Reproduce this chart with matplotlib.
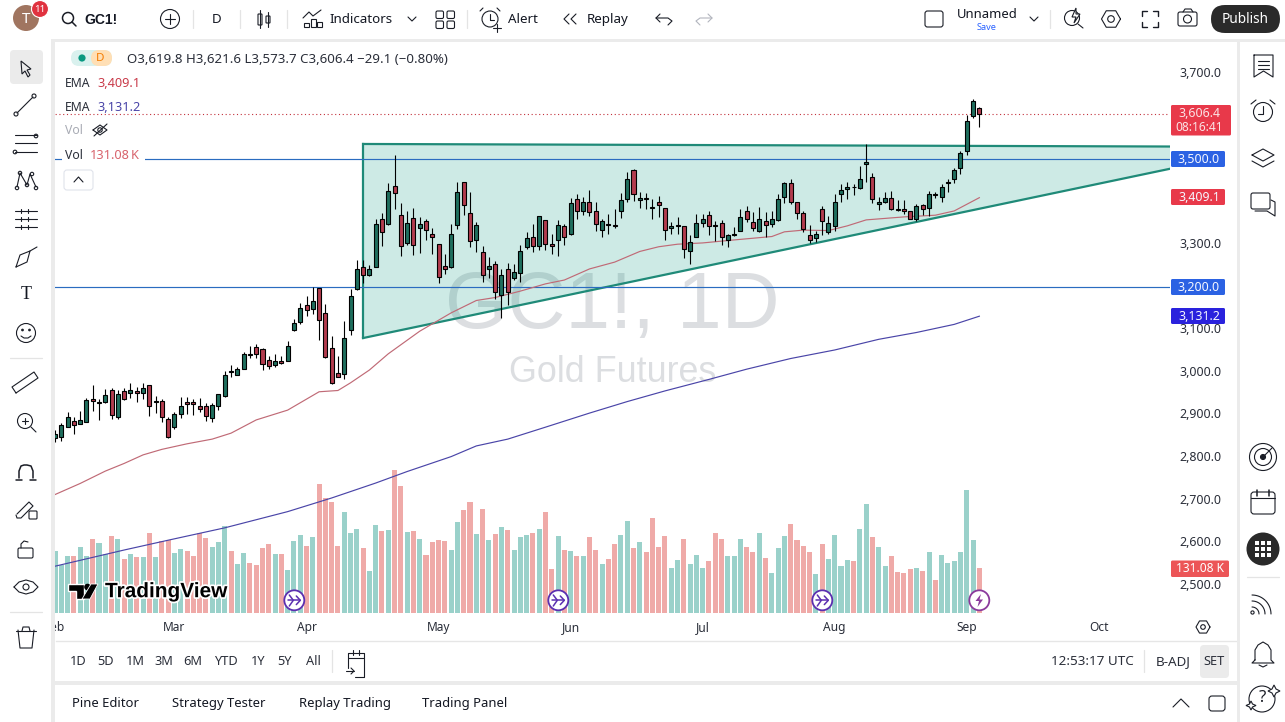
import matplotlib

matplotlib.use("Agg")
import matplotlib.pyplot as plt
import numpy as np
from matplotlib.patches import Circle, FancyBboxPatch, Polygon, Rectangle
import matplotlib.patheffects as pe

plt.rcParams["font.family"] = ["Noto Sans", "DejaVu Sans"]

opens = [
    2845, 2849, 2872, 2885, 2879, 2884, 2936, 2928, 2929, 2957,
    2896, 2955, 2950, 2955, 2950, 2969, 2930, 2932, 2889, 2872,
    2903, 2929, 2929, 2920, 2920, 2893, 2921, 2943, 3003, 2994,
    3008, 3043, 3058, 3054, 3028, 3017, 3025, 3025, 3100, 3118,
    3157, 3147, 3197, 3138, 3056, 2997, 2996, 3098, 3194, 3246,
    3227, 3247, 3358, 3347, 3436, 3368, 3302, 3361, 3337, 3354,
    3323, 3300, 3248, 3246, 3344, 3447, 3372, 3309, 3281, 3241,
    3253, 3180, 3243, 3220, 3232, 3293, 3318, 3295, 3356, 3300,
    3311, 3342, 3323, 3405, 3377, 3398, 3377, 3333, 3347, 3345,
    3377, 3405, 3473, 3403, 3408, 3387, 3400, 3384, 3337, 3342,
    3342, 3283, 3316, 3349, 3368, 3345, 3349, 3311, 3321, 3332,
    3377, 3351, 3330, 3354, 3347, 3356, 3410, 3443, 3398, 3372,
    3321, 3314, 3382, 3328, 3342, 3417, 3429, 3434, 3431, 3487,
    3457, 3394, 3398, 3408, 3382, 3382, 3377, 3358, 3391, 3384,
    3417, 3410, 3443, 3452, 3478, 3518, 3600, 3619.8,
]
highs = [
    2864, 2880, 2906, 2894, 2910, 2939, 2970, 2937, 2961, 2964,
    2958, 2964, 2974, 2966, 2974, 2971, 2944, 2936, 2896, 2906,
    2941, 2941, 2937, 2939, 2927, 2928, 2948, 3003, 3016, 3012,
    3047, 3061, 3065, 3057, 3039, 3043, 3038, 3072, 3125, 3161,
    3179, 3200, 3197, 3159, 3085, 3038, 3120, 3194, 3263, 3263,
    3251, 3359, 3372, 3443, 3509, 3396, 3378, 3384, 3363, 3358,
    3337, 3300, 3276, 3347, 3445, 3447, 3422, 3351, 3295, 3269,
    3260, 3243, 3255, 3253, 3297, 3328, 3347, 3365, 3356, 3323,
    3356, 3347, 3408, 3417, 3410, 3426, 3398, 3358, 3371, 3382,
    3419, 3469, 3476, 3422, 3419, 3405, 3412, 3384, 3351, 3363,
    3343, 3321, 3370, 3370, 3377, 3354, 3356, 3323, 3340, 3382,
    3389, 3375, 3387, 3375, 3377, 3417, 3447, 3453, 3400, 3377,
    3344, 3330, 3389, 3366, 3417, 3440, 3445, 3441, 3483, 3534,
    3466, 3410, 3422, 3424, 3403, 3403, 3378, 3394, 3394, 3424,
    3422, 3440, 3452, 3478, 3518, 3602, 3640, 3621.6,
]
lows = [
    2837, 2839, 2872, 2855, 2878, 2882, 2909, 2888, 2927, 2891,
    2889, 2935, 2940, 2930, 2938, 2898, 2905, 2882, 2846, 2867,
    2893, 2903, 2900, 2907, 2885, 2884, 2911, 2942, 2989, 2993,
    3007, 3033, 3033, 3006, 3008, 3013, 3019, 3025, 3097, 3114,
    3132, 3136, 3075, 3034, 2973, 2988, 2984, 3087, 3193, 3210,
    3225, 3247, 3296, 3346, 3382, 3273, 3297, 3275, 3280, 3311,
    3277, 3210, 3230, 3245, 3335, 3369, 3294, 3281, 3212, 3220,
    3172, 3126, 3158, 3215, 3211, 3288, 3281, 3287, 3286, 3276,
    3272, 3297, 3321, 3358, 3368, 3365, 3330, 3316, 3323, 3337,
    3361, 3400, 3401, 3386, 3382, 3358, 3363, 3311, 3325, 3324,
    3268, 3253, 3316, 3341, 3322, 3307, 3297, 3293, 3320, 3330,
    3351, 3330, 3328, 3316, 3340, 3354, 3396, 3394, 3358, 3328,
    3302, 3304, 3321, 3325, 3332, 3400, 3405, 3415, 3430, 3447,
    3396, 3381, 3396, 3380, 3379, 3370, 3358, 3355, 3368, 3365,
    3408, 3398, 3423, 3443, 3464, 3508, 3596, 3573.7,
]
closes = [
    2856, 2875, 2894, 2877, 2887, 2934, 2933, 2930, 2946, 2900,
    2948, 2936, 2957, 2952, 2964, 2920, 2932, 2896, 2849, 2901,
    2920, 2926, 2926, 2914, 2898, 2922, 2948, 2993, 3000, 3007,
    3042, 3040, 3043, 3020, 3015, 3025, 3022, 3061, 3115, 3150,
    3145, 3166, 3122, 3035, 2974, 2989, 3079, 3178, 3243, 3227,
    3241, 3347, 3328, 3424, 3419, 3295, 3349, 3297, 3347, 3333,
    3318, 3222, 3243, 3323, 3422, 3391, 3307, 3344, 3227, 3248,
    3187, 3227, 3187, 3234, 3283, 3314, 3295, 3365, 3300, 3295,
    3344, 3316, 3396, 3377, 3398, 3375, 3347, 3354, 3344, 3343,
    3403, 3452, 3417, 3408, 3405, 3385, 3393, 3333, 3342, 3344,
    3288, 3306, 3349, 3358, 3342, 3343, 3316, 3321, 3325, 3363,
    3358, 3337, 3358, 3344, 3358, 3405, 3443, 3398, 3372, 3335,
    3309, 3323, 3354, 3349, 3400, 3426, 3433, 3433, 3452, 3492,
    3405, 3398, 3408, 3382, 3380, 3377, 3358, 3389, 3382, 3417,
    3415, 3433, 3447, 3473, 3515, 3590, 3635, 3606.4,
]
# volume in thousands
volumes = [
    181, 140, 166, 166, 192, 166, 216, 204, 172, 224,
    216, 157, 172, 163, 163, 233, 163, 210, 213, 175,
    186, 181, 166, 233, 218, 192, 207, 253, 181, 143,
    175, 146, 140, 189, 201, 172, 172, 125, 210, 227,
    195, 221, 376, 335, 323, 195, 294, 233, 245, 189,
    122, 256, 239, 242, 417, 370, 236, 239, 216, 169,
    207, 213, 210, 184, 265, 300, 323, 230, 303, 213,
    230, 251, 242, 184, 221, 227, 233, 245, 294, 128,
    224, 184, 181, 166, 166, 221, 184, 143, 157, 201,
    227, 268, 189, 207, 178, 277, 192, 224, 131, 154,
    216, 143, 169, 131, 151, 233, 216, 166, 166, 216,
    192, 178, 233, 160, 117, 189, 224, 259, 213, 195,
    178, 114, 201, 157, 227, 137, 154, 151, 245, 318,
    221, 192, 137, 166, 119, 117, 128, 131, 122, 178,
    96, 169, 146, 151, 178, 358, 213, 131.08,
]

ema50_bars = [0, 4, 8, 11, 14, 17, 21, 25, 28, 32, 37, 42, 45, 47, 50, 53, 58, 63, 67, 70,
              74, 78, 81, 85, 89, 93, 96, 99, 103, 108, 114, 116, 119, 123, 126, 129, 135,
              140, 143, 147]
ema50_vals = [2713, 2739, 2768, 2786, 2806, 2819, 2832, 2843, 2857, 2888, 2911, 2954, 2957,
              2975, 3005, 3043, 3096, 3139, 3168, 3175, 3190, 3207, 3216, 3242, 3258, 3283,
              3294, 3300, 3303, 3310, 3318, 3329, 3333, 3332, 3343, 3357, 3364, 3368, 3378,
              3409.1]
ema200_bars = [0, 11, 18, 27, 37, 44, 51, 56, 60, 63, 67, 72, 78, 85, 91, 97, 104, 110, 117,
               124, 131, 137, 143, 147]
ema200_vals = [2545, 2583, 2606, 2635, 2673, 2705, 2740, 2767, 2787, 2802, 2827, 2843, 2871,
               2904, 2931, 2956, 2983, 3007, 3032, 3052, 3077, 3093, 3112, 3131.2]

price_ticks = [3700, 3300, 3100, 3000, 2900, 2800, 2700, 2600, 2500]
month_bars = [0, 19, 40, 61, 82, 103, 124, 145, 166]
month_labels = ["Feb", "Mar", "Apr", "May", "Jun", "Jul", "Aug", "Sep", "Oct"]
hlines = [3500, 3200]
last_price = 3606.4
triangle_bars = [49, 49, 178, 178]
triangle_vals = [3535, 3080, 3479, 3529]

W, H = 1285, 722
INK = "#131722"
UP, DOWN = "#1f6f5e", "#b23c4e"
VOL_UP, VOL_DOWN = "#9ad1ca", "#efaaa8"
PANEL_GAP = "#ebebeb"

fig = plt.figure(figsize=(W / 100, H / 100), dpi=100, facecolor=PANEL_GAP)


def pix_axes(z):
    a = fig.add_axes([0, 0, 1, 1], zorder=z)
    a.set_xlim(0, W)
    a.set_ylim(H, 0)
    a.axis("off")
    a.patch.set_alpha(0)
    return a


bg = pix_axes(0)
ui = pix_axes(5)

# chart pane
L, R, T, B = 40, 1170, 42, 613
pos = [L / W, (H - B) / H, (R - L) / W, (B - T) / H]
x_range = (-2.385, 177.32)

bg.add_patch(Rectangle((55, 42), 1182, 640, fc="white", ec="none"))
bg.add_patch(Rectangle((0, 0), W, 38.5, fc="white", ec="none"))
bg.add_patch(Rectangle((55, 685), 1182, 37, fc="white", ec="none"))
bg.plot([56, 1236], [641, 641], color="#e6e6e6", lw=1)
bg.text(612, 307, "GC1!, 1D", fontsize=57.8, family="Liberation Sans", color="#dcdee1", ha="center", va="center")
bg.text(613, 372, "Gold Futures", fontsize=25.8, family="Liberation Sans", color="#dcdee1", ha="center", va="center")

# volume
vol_ax = fig.add_axes(pos, zorder=1)
vol_ax.patch.set_alpha(0)
vol_ax.axis("off")
vol_ax.set_xlim(*x_range)
vol_ax.set_ylim(0, 1663)
bars = np.arange(len(closes))
up = np.array(closes) >= np.array(opens)
vol_ax.bar(bars, volumes, width=0.8, color=[VOL_UP if u else VOL_DOWN for u in up])

# price
ax = fig.add_axes(pos, zorder=2)
ax.patch.set_alpha(0)
ax.set_xlim(*x_range)
ax.set_ylim(2435.3, 3774.1)
for s in ax.spines.values():
    s.set_visible(False)
ax.add_patch(Polygon(list(zip(triangle_bars, triangle_vals)), closed=True, fc="#089981", alpha=0.2, ec="none", zorder=1))
ax.plot(triangle_bars[:2], triangle_vals[:2], color="#1f8a78", lw=1.6, zorder=2)
ax.plot([triangle_bars[0], triangle_bars[3]], [triangle_vals[0], triangle_vals[3]], color="#1f8a78", lw=1.6, zorder=2)
ax.plot([triangle_bars[1], triangle_bars[2]], [triangle_vals[1], triangle_vals[2]], color="#1f8a78", lw=1.6, zorder=2)
for lvl in hlines:
    ax.axhline(lvl, color="#2a6cc0", lw=0.85, zorder=3)
ax.axhline(last_price, color="#c2303c", lw=0.8, ls=(0, (1, 2.4)), zorder=3)
ax.plot(ema50_bars, ema50_vals, color="#c06a76", lw=0.85, zorder=4)
ax.plot(ema200_bars, ema200_vals, color="#4a45a8", lw=0.85, zorder=4)
ax.vlines(bars, lows, highs, color="black", lw=0.8, zorder=5)
ax.bar(bars, np.abs(np.array(closes) - np.array(opens)), bottom=np.minimum(opens, closes), width=0.64,
       color=[UP if u else DOWN for u in up], edgecolor="black", lw=0.8, zorder=6)

ax.yaxis.tick_right()
ax.set_yticks(price_ticks)
ax.set_yticklabels([f"{p:,.1f}" for p in price_ticks], fontsize=8.9, color="#2a2e39", va="center")
ax.set_xticks(month_bars)
ax.set_xticklabels(month_labels, fontsize=8.6, color="#2a2e39")
ax.tick_params(axis="both", length=0)
ax.tick_params(axis="y", pad=6.5)
ax.tick_params(axis="x", pad=5.5)

# ---- screen furniture, pixel coordinates from here ----
ui.add_patch(Rectangle((0, 39), 51, 683, fc="white", ec="none"))
ui.add_patch(Rectangle((51, 39), 4, 683, fc=PANEL_GAP, ec="none"))
ui.add_patch(Rectangle((1237, 39), 3, 683, fc=PANEL_GAP, ec="none"))
ui.add_patch(Rectangle((1240, 42), 45, 680, fc="white", ec="none"))
ui.add_patch(Rectangle((55, 39), 1185, 3, fc=PANEL_GAP, ec="none"))
ui.add_patch(Rectangle((55, 681), 1185, 3.5, fc=PANEL_GAP, ec="none"))


def line(xs, ys, c="#1a1d26", lw=0.8):
    ui.plot(xs, ys, color=c, lw=lw, solid_capstyle="round", solid_joinstyle="round")


def box(x0, y0, x1, y1, r=2.0, fc="none", ec="#1a1d26", lw=0.8):
    ui.add_patch(FancyBboxPatch((x0, y0), x1 - x0, y1 - y0, boxstyle="round,pad=0,rounding_size=%s" % r,
                                mutation_scale=1, fc=fc, ec=ec, lw=lw))


def ring(x, y, r, fc="none", ec="#1a1d26", lw=0.8):
    ui.add_patch(Circle((x, y), r, fc=fc, ec=ec, lw=lw))


def label(x, y, s, size=9.7, c=INK, ha="left", **kw):
    return ui.text(x, y + 2.7, s, fontsize=size, color=c, ha=ha, va="center", **kw)


# top bar
ring(26, 18, 13, fc="#a07560", ec="none")
label(26, 16.5, "T", 11, "white", "center")
ring(40, 9, 8.5, fc="#e0323f", ec="white", lw=0.8)
label(40, 6.5, "11", 7, "white", "center")
ring(68, 18, 5.5, lw=1.1)
line([72, 76], [22, 26], lw=1.1)
label(84, 17, "GC1!", 10, INK, family="Liberation Sans", weight="bold")
ring(170, 19, 9.5)
line([165, 175], [19, 19])
line([170, 170], [14, 24])
label(217, 17, "D", 9.6, INK, "center")
for sep_x in [193, 240, 287, 467, 1050]:
    line([sep_x, sep_x], [10, 28], "#e4e4e4", 0.9)
box(258, 14, 262, 25, 0.5)
line([260, 260], [10, 28])
box(266, 16, 270, 23, 0.5)
line([268, 268], [12, 27])
# indicators icon
for bx, by in [(304, 20), (311, 16), (317, 19)]:
    ui.add_patch(Rectangle((bx, by + 3), 5, 27 - by - 3, fc="none", ec="#1a1d26", lw=0.8))
line([303, 309, 313, 321], [18, 12, 16, 10])
label(329, 17, "Indicators", 9.6)
line([408, 412, 416], [17, 21, 17])
for gx in (436, 447):
    for gy in (11, 21):
        box(gx, gy, gx + 7.5, gy + 7.5, 1.5)
ring(490, 19, 8)
line([490, 490, 494], [14, 20, 20])
line([483, 480], [8, 11])
line([497, 500], [8, 11])
line([497, 497], [24, 32])
line([493, 501], [28, 28])
label(508, 17, "Alert", 9.6)
line([569, 564, 569], [14, 19, 24])
line([576, 571, 576], [14, 19, 24])
label(587, 17, "Replay", 9.6)
line([660, 656, 660], [14, 18, 22])
line([656, 668, 672, 668], [18, 18, 21, 25])
line([708, 712, 708], [14, 18, 22], "#b2b5be")
line([712, 700, 696, 700], [18, 18, 21, 25], "#b2b5be")
box(925, 11, 943, 27, 2.5)
label(987, 11.5, "Unnamed", 9.4, INK, "center")
label(987, 24.5, "Save", 6.6, "#2962ff", "center")
line([1030, 1034, 1038], [17, 21, 17])
ring(1072, 18, 7.5)
line([1078, 1083], [24, 28])
ui.add_patch(Polygon([(1076, 8), (1072, 17), (1076, 17), (1074, 23), (1080, 14), (1076, 14)], closed=True, fc="white", ec="#1a1d26", lw=0.8))
hex_x = 1111 + 9.5 * np.cos(np.arange(7) * np.pi / 3)
hex_y = 19 + 9.5 * np.sin(np.arange(7) * np.pi / 3)
line(hex_x, hex_y)
ring(1111, 19, 3.3)
for cx, cy, sx, sy in [(1142, 11, 1, 1), (1158, 11, -1, 1), (1142, 27, 1, -1), (1158, 27, -1, -1)]:
    line([cx, cx, cx + 5 * sx], [cy + 5 * sy, cy, cy], lw=1.0)
box(1178, 12, 1197, 26, 2)
line([1183, 1185, 1191, 1193], [12, 9, 9, 12])
ring(1187.5, 19, 4)
box(1211, 5, 1280, 33, 14, fc="#2a2a2a", ec="none")
label(1245.5, 17, "Publish", 9.8, "white", "center")

# left toolbar
box(10, 50, 43, 84, 4, fc="#ebebeb", ec="none")
ui.add_patch(Polygon([(21, 61), (31, 69), (27, 70), (30, 75), (28, 77), (25, 71), (22, 74)], closed=True, fc="none", ec="#1a1d26", lw=0.8))
line([17, 33], [113, 97])
ring(16, 114, 2, fc="white")
ring(34, 96, 2, fc="white")
for ly in (135, 143, 152):
    line([15, 37], [ly, ly])
ring(36, 136, 1.8, fc="white")
ring(15, 152, 1.8, fc="white")
line([17, 20, 27, 30, 36], [187, 173, 185, 174, 187])
for px, py in [(17, 188), (20, 173), (27, 185), (32, 174), (36, 188)]:
    ring(px, py, 1.7, fc="white")
for ly in (211, 219, 227):
    line([15, 37], [ly, ly])
    line([21, 21], [ly - 2, ly + 2])
    line([28, 28], [ly - 2, ly + 2])
line([16, 20, 30, 27, 16], [267, 255, 251, 262, 267])
line([30, 37], [251, 247])
label(26, 292, "T", 13, INK, "center", family="Liberation Serif")
ring(26, 333, 9.5)
ring(22.5, 330, 0.8, fc="#1a1d26")
ring(29.5, 330, 0.8, fc="#1a1d26")
line([21, 24, 28, 31], [336, 338, 338, 336])
line([16, 38, 34, 12, 16], [393, 378, 372, 387, 393])
ring(25, 421, 7.5)
line([31, 36], [427, 432])
line([22, 28], [421, 421])
line([25, 25], [418, 424])
line([10, 42], [358, 358], "#e4e4e4", 0.9)
line([19, 19, 21, 24, 27, 31, 33, 33], [478, 471, 466, 465, 465, 466, 471, 478], lw=1.1)
line([16, 22], [480, 480], lw=1.1)
line([30, 36], [480, 480], lw=1.1)
line([17, 29, 33, 21, 17, 16], [514, 502, 506, 518, 518, 515])
box(29, 511, 37, 519, 1)
box(18, 548, 33, 558, 1.5)
line([21, 21, 24, 28], [548, 544, 541, 542])
line([14, 19, 26, 33, 38, 33, 26, 19, 14], [587, 582, 580, 582, 587, 592, 594, 592, 587])
ring(26, 587, 3)
line([10, 42], [612, 612], "#e4e4e4", 0.9)
line([18, 20, 32, 34], [630, 648, 648, 630])
line([16, 36], [631, 631])
line([22, 23, 29, 30], [631, 627, 627, 631])

# legend
ui.add_patch(FancyBboxPatch((71, 50), 41, 16, boxstyle="round,pad=0,rounding_size=8", mutation_scale=1, fc="#d9f1ee", ec="none"))
ui.add_patch(FancyBboxPatch((91, 50), 21, 16, boxstyle="round,pad=0,rounding_size=8", mutation_scale=1, fc="#ffdfb5", ec="none"))
ring(82, 58, 3.6, fc="#089981", ec="none")
label(100, 56, "D", 8.4, "#f57c00", "center")
label(127, 57, "O3,619.8 H3,621.6 L3,573.7 C3,606.4 \u221229.1 (\u22120.80%)", 9.55, "#2a2e39")
label(65, 81, "EMA", 8.8, "#2a2e39")
label(97, 81, "3,409.1", 9.2, "#c93b4a")
label(65, 105, "EMA", 8.8, "#2a2e39")
label(97, 105, "3,131.2", 9.2, "#4a45a8")
label(65, 128, "Vol", 8.8, "#a8abb4")
line([93, 100, 107, 100, 93], [130, 125, 130, 135, 130])
ring(100, 130, 2.2)
line([94, 107], [136, 124])
ui.add_patch(Rectangle((62, 147), 83, 17, fc="white", ec="none"))
label(65, 153, "Vol", 8.8, "#2a2e39")
label(90, 153, "131.08", 9.2, "#d8636c")
label(131, 153, "K", 9.2, "#d8636c")
box(64, 170, 93, 190, 3, ec="#e0e3eb")
line([74, 78.5, 83], [182, 177, 182])

# price tags
box(1171, 105, 1231, 135.5, 1.5, fc="#e8394a", ec="none")
label(1199, 110.5, "3,606.4", 8.9, "#fbe3e5", "center")
label(1199, 124.5, "08:16:41", 8.6, "#fbe3e5", "center")
for y0, txt, col in [(159, "3,500.0", "#2b62e3"), (197, "3,409.1", "#e8394a"), (287, "3,200.0", "#2b62e3"), (316, "3,131.2", "#2a22dd")]:
    box(1171, y0 - 8, 1225, y0 + 8, 1.5, fc=col, ec="none")
    label(1199, y0 - 2.5, txt, 8.9, "#f5f7ff", "center")
box(1171, 560.5, 1229, 577, 1.5, fc="#ec5557", ec="none")
label(1200, 566, "131.08 K", 8.6, "white", "center")
hx = 1203 + 7 * np.cos(np.arange(7) * np.pi / 3)
hy = 627 + 7 * np.sin(np.arange(7) * np.pi / 3)
line(hx, hy)
ring(1203, 627, 2.3)

# logo
ui.add_patch(Polygon([(68, 584), (84, 584), (84, 599), (76, 599), (76, 591), (68, 591)], closed=True, fc="black", ec="white", lw=1.0))
ring(87.5, 587, 3.3, fc="black", ec="none")
ui.add_patch(Polygon([(91, 584), (98, 584), (90, 599), (82, 599)], closed=True, fc="black", ec="white", lw=0.6))
label(105, 589, "TradingView", 15.0, "black", family="Liberation Sans", weight="bold",
      path_effects=[pe.withStroke(linewidth=2.5, foreground="white")])

# event markers
for ex in (294.3, 558.3, 822.3):
    ring(ex, 600.3, 10, fc="white", ec="#5b2fb0", lw=1.3)
    line([ex - 6, ex + 6], [600.3, 600.3], "#5b2fb0", 1.1)
    line([ex + 2, ex + 6, ex + 2], [596, 600.3, 604.6], "#5b2fb0", 1.1)
    line([ex - 5, ex - 1, ex - 5], [595, 600.3, 606], "#5b2fb0", 1.1)
ring(979.3, 600.3, 10, fc="white", ec="#8b3a9c", lw=1.3)
ui.add_patch(Polygon([(981, 594), (975.5, 601), (979, 601), (977.5, 607), (983, 599.5), (979.5, 599.5)], closed=True, fc="#8b3a9c", ec="none"))

# range bar
for rx, s in zip([78, 106, 135, 164, 193, 226, 258, 285, 313], ["1D", "5D", "1M", "3M", "6M", "YTD", "1Y", "5Y", "All"]):
    label(rx, 658.5, s, 9.2, "#2a2e39", "center")
line([332, 332], [650, 672], "#e4e4e4", 0.9)
line([348, 348, 364, 364, 355], [668, 653, 653, 677, 677])
line([348, 364], [658, 658])
line([353, 353], [650, 655])
line([359, 359], [650, 655])
line([346, 354], [671, 671])
line([351, 354, 351], [668, 671, 674])
label(1092, 658.5, "12:53:17 UTC", 9.7, "#2a2e39", "center")
line([1144, 1144], [650, 672], "#e4e4e4", 0.9)
label(1173, 658.5, "B-ADJ", 9.7, "#2a2e39", "center")
box(1200, 645, 1229, 678, 4, fc="#ebebeb", ec="none")
label(1214.5, 658.5, "SET", 9.2, "#2a2e39", "center")

# bottom tabs
for bx, s in zip([72, 172, 299, 422], ["Pine Editor", "Strategy Tester", "Replay Trading", "Trading Panel"]):
    label(bx, 700.5, s, 9.4, "#131722")
line([1173, 1181, 1189], [707, 699, 707])
box(1209, 696, 1225, 711, 3)

# right toolbar
line([1254, 1273, 1273, 1263.5, 1254, 1254], [55, 55, 77, 71, 77, 55])
for ly in (61, 65, 69):
    line([1258, 1269], [ly, ly])
ring(1263, 112, 9.5)
line([1263, 1263, 1258], [106, 114, 114])
line([1251, 1256], [104, 100])
line([1275, 1270], [104, 100])
line([1252, 1263, 1274, 1263, 1252], [155, 149, 155, 161, 155])
line([1252, 1263, 1274], [161, 167, 161])
box(1251, 193, 1270, 209, 2)
line([1271, 1275, 1275, 1267, 1255], [200, 202, 216, 211, 211])
ring(1263, 457, 13.5)
ring(1263, 457, 8.5)
ring(1263, 457, 2.5, fc="#1a1d26")
line([1263, 1272], [457, 448])
box(1251, 492, 1275, 514, 3)
line([1251, 1275], [498, 498])
for tx in (1257, 1269):
    line([tx, tx], [490, 496], lw=1.1)
ring(1263, 549, 16.5, fc="#2a2a2a", ec="none")
for dx in (-6, 0, 6):
    for dy in (-6, 0, 6):
        ui.add_patch(Rectangle((1263 + dx - 2, 549 + dy - 2), 4, 4, fc="white", ec="none"))
line([1247, 1279], [577, 577], "#e4e4e4", 0.9)
ring(1252.5, 612.5, 1.6)
t = np.linspace(-np.pi / 2, 0, 16)
for rr in (7, 13, 19):
    line(1252 + rr * np.cos(t), 614 + rr * np.sin(t))
line([1255, 1255, 1258, 1263, 1268, 1271, 1271, 1274, 1252, 1255], [660, 650, 645, 642, 645, 650, 660, 663, 663, 660])
line([1259, 1263, 1267], [665, 667, 665])
ring(1262, 699, 13)
label(1262, 695.5, "?", 12, "#1a1d26", "center")
ui.add_patch(Polygon([(1274, 685), (1276, 689), (1280, 691), (1276, 693), (1274, 697), (1272, 693), (1268, 691), (1272, 689)], closed=True, fc="white", ec="#1a1d26", lw=0.8))
ui.add_patch(Polygon([(1251, 701), (1252.5, 704), (1256, 705.5), (1252.5, 707), (1251, 710), (1249.5, 707), (1246, 705.5), (1249.5, 704)], closed=True, fc="white", ec="#1a1d26", lw=0.8))

fig.savefig("out.png", dpi=100, facecolor=fig.get_facecolor())
